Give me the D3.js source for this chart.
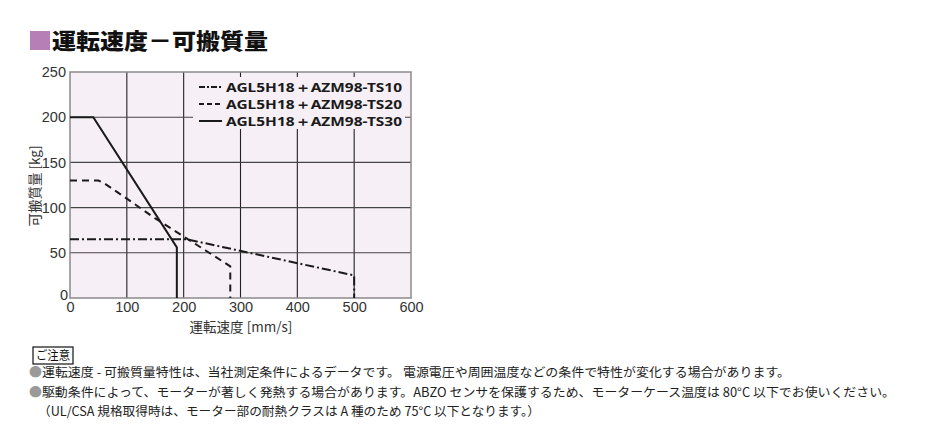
<!DOCTYPE html>
<html><head><meta charset="utf-8">
<script src="https://cdn.jsdelivr.net/npm/d3@7"></script>
<style>
body{margin:0;background:#fff;}
svg{display:block;}
</style></head>
<body>
<svg id="c" width="930" height="446"></svg>
<script>
const title = "運転速度－可搬質量";
const xLabel = "運転速度 [mm/s]";
const yLabel = "可搬質量 [kg]";
const xTicks = [0,100,200,300,400,500,600];
const yTicks = [0,50,100,150,200,250];
const seriesNames = ["AGL5H18＋AZM98-TS10","AGL5H18＋AZM98-TS20","AGL5H18＋AZM98-TS30"];
const ts10 = [[0,65],[205,65],[500,25],[500,0]];
const ts20 = [[0,130],[50,130],[60,127],[100,110],[150,88],[205,66],[240,52],[282,35],[282,0]];
const ts30 = [[0,200],[41,200],[188,56],[188,0]];
const notesHead = "ご注意";
const notes = [
 "●運転速度 - 可搬質量特性は、当社測定条件によるデータです。 電源電圧や周囲温度などの条件で特性が変化する場合があります。",
 "●駆動条件によって、モーターが著しく発熱する場合があります。ABZO センサを保護するため、モーターケース温度は 80°C 以下でお使いください。",
 "（UL/CSA 規格取得時は、モーター部の耐熱クラスは A 種のため 75°C 以下となります。）"
];

const svg = d3.select("#c");
const cjk = "'Noto Sans CJK JP', sans-serif";
const narrow = "'Liberation Sans Narrow','Liberation Sans', Arial, sans-serif";

// title
svg.append("rect").attr("x",30).attr("y",31).attr("width",20).attr("height",19).attr("fill","#b67fb6");
svg.append("text").attr("x",52).attr("y",49).text(title)
  .attr("font-family",cjk).attr("font-weight",900).attr("font-size",22)
  .attr("textLength",216).attr("lengthAdjust","spacingAndGlyphs").attr("fill","#111");

const L=70,R=411,T=72,B=298;
const x = d3.scaleLinear().domain([0,600]).range([L,R]);
const y = d3.scaleLinear().domain([0,250]).range([B,T]);

svg.append("rect").attr("x",L).attr("y",T).attr("width",R-L).attr("height",B-T).attr("fill","#f6eff6");

const g = svg.append("g");
g.selectAll("line.v").data(xTicks.slice(1,-1)).join("line")
 .attr("x1",d=>x(d)).attr("x2",d=>x(d)).attr("y1",T).attr("y2",B)
 .attr("stroke","#222").attr("stroke-width",1.1);
g.selectAll("line.h").data(yTicks.slice(1,-1)).join("line")
 .attr("y1",d=>y(d)).attr("y2",d=>y(d)).attr("x1",L).attr("x2",R)
 .attr("stroke","#444").attr("stroke-width",1.1);

// legend box masking gridlines
svg.append("rect").attr("x",193).attr("y",77).attr("width",212).attr("height",52).attr("fill","#f6eff6");

svg.append("rect").attr("x",L).attr("y",T).attr("width",R-L).attr("height",B-T)
  .attr("fill","none").attr("stroke","#8a8a8a").attr("stroke-width",1.5);

// axes labels
const xa = svg.append("g").attr("transform",`translate(0,${B})`)
 .call(d3.axisBottom(x).tickValues(xTicks).tickSize(0).tickPadding(2));
xa.select(".domain").remove();
xa.selectAll("text").attr("font-family",narrow).attr("font-size",14.5).attr("fill","#333").attr("y",2).attr("dy","0.85em");
const ya = svg.append("g").attr("transform",`translate(${L},0)`)
 .call(d3.axisLeft(y).tickValues(yTicks).tickSize(0).tickPadding(4));
ya.select(".domain").remove();
ya.selectAll("text").attr("font-family",narrow).attr("font-size",14.5).attr("fill","#333").attr("dy","0.32em");
ya.selectAll(".tick").filter(d=>d===0).select("text").attr("dy","0.12em").attr("x",-2);

svg.append("text").attr("x",241).attr("y",332).attr("text-anchor","middle")
 .attr("font-family",cjk).attr("font-size",13.5).attr("fill","#333").text(xLabel);
svg.append("text").attr("transform","translate(40,186) rotate(-90)").attr("text-anchor","middle")
 .attr("font-family",cjk).attr("font-size",13.5).attr("fill","#333").text(yLabel);

// lines
const line = d3.line().x(d=>x(d[0])).y(d=>y(d[1]));
const series = [
 {data:ts10, dash:"9,3,2,3"},
 {data:ts20, dash:"7,5"},
 {data:ts30, dash:null}
];
series.forEach(s=>{
 svg.append("path").attr("d",line(s.data)).attr("fill","none").attr("stroke","#1a1a1a")
  .attr("stroke-width",2).attr("stroke-dasharray",s.dash);
});

// legend
const ly=[87,104,121];
seriesNames.forEach((n,i)=>{
 svg.append("line").attr("x1",199).attr("x2",222).attr("y1",ly[i]).attr("y2",ly[i])
  .attr("stroke","#1a1a1a").attr("stroke-width",2).attr("stroke-dasharray",series[i].dash ? (i===0?"6,2,2,2":"5,3"):null);
 svg.append("text").attr("x",226).attr("y",ly[i]+4.5).text(n)
  .attr("font-family","'Noto Sans', sans-serif").attr("font-weight",700).attr("font-size",12.5)
  .attr("textLength",176).attr("lengthAdjust","spacingAndGlyphs").attr("fill","#1a1a1a");
});

// notes
svg.append("rect").attr("x",33).attr("y",347).attr("width",40).attr("height",17).attr("fill","none").attr("stroke","#111").attr("stroke-width",1.2);
svg.append("text").attr("x",36).attr("y",360).text(notesHead).attr("font-family",cjk).attr("font-size",12.5).attr("fill","#111")
 .attr("textLength",34).attr("lengthAdjust","spacingAndGlyphs");
const nx=[29,29,38], nyy=[377,397,416], nw=[761,866,502];
notes.forEach((t,i)=>{
 const tx = svg.append("text").attr("x",nx[i]).attr("y",nyy[i]).attr("font-family",cjk).attr("font-size",12.5).attr("fill","#222")
  .attr("textLength",nw[i]).attr("lengthAdjust","spacingAndGlyphs");
 if(t.startsWith("●")){
  tx.append("tspan").attr("fill","#9a9a9a").text("●");
  tx.append("tspan").text(t.slice(1));
 } else tx.text(t);
});
</script>
</body></html>
